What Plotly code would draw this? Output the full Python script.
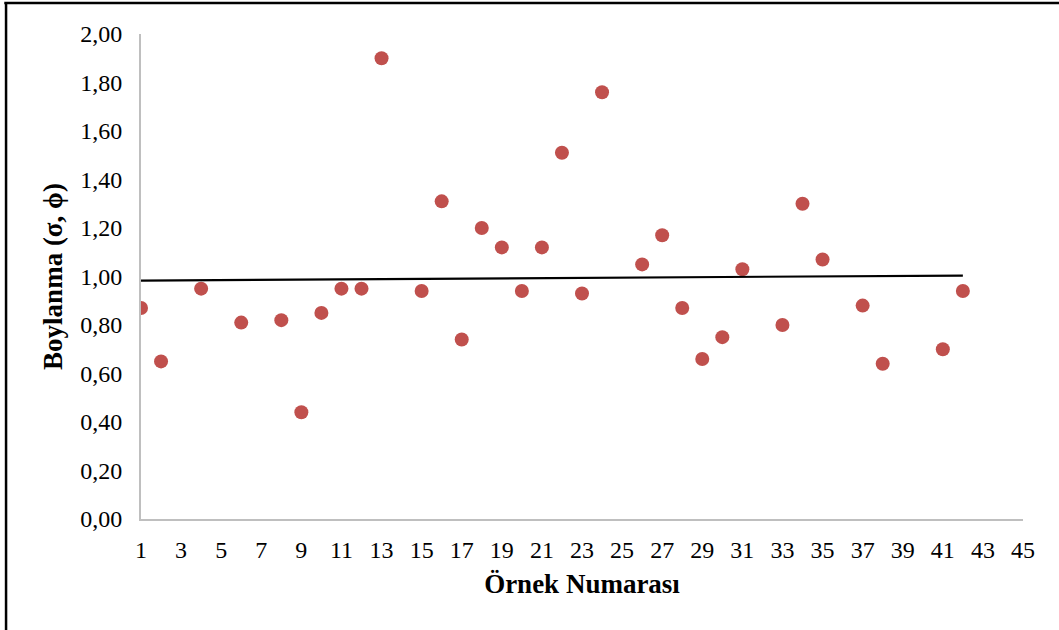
import plotly.graph_objects as go

sample_no = [1, 2, 4, 6, 8, 9, 10, 11, 12, 13, 15, 16, 17, 18, 19, 20, 21, 22, 23, 24,
             26, 27, 28, 29, 30, 31, 33, 34, 35, 37, 38, 41, 42]
sorting = [0.87, 0.65, 0.95, 0.81, 0.82, 0.44, 0.85, 0.95, 0.95, 1.90, 0.94, 1.31, 0.74,
           1.20, 1.12, 0.94, 1.12, 1.51, 0.93, 1.76, 1.05, 1.17, 0.87, 0.66, 0.75, 1.03,
           0.80, 1.30, 1.07, 0.88, 0.64, 0.70, 0.94]
trend_x = [1, 42]
trend_y = [0.983, 1.004]
x_ticks = list(range(1, 46, 2))
y_ticks = [0, 0.2, 0.4, 0.6, 0.8, 1.0, 1.2, 1.4, 1.6, 1.8, 2.0]

FONT = "Liberation Serif, Times New Roman, serif"

fig = go.Figure()
fig.add_trace(go.Scatter(x=sample_no, y=sorting, mode="markers",
                         marker=dict(color="#C0504D", size=14), showlegend=False))
fig.add_trace(go.Scatter(x=trend_x, y=trend_y, mode="lines",
                         line=dict(color="black", width=2.2), showlegend=False))

fig.update_layout(
    width=1059, height=630,
    margin=dict(l=141, r=36, t=34, b=111),
    paper_bgcolor="white", plot_bgcolor="white",
    separators=",.",
    font=dict(family=FONT, size=24, color="black"),
    xaxis=dict(range=[1, 45], tickvals=x_ticks, showgrid=False, zeroline=False,
               showline=True, linecolor="#BFBFBF", linewidth=2, ticks="",
               ticklabelstandoff=8, automargin=False,
               title=dict(text="<b>Örnek Numarası</b>", font=dict(size=27), standoff=12)),
    yaxis=dict(range=[0, 2], tickvals=y_ticks, tickformat=".2f", showgrid=False,
               zeroline=False, showline=True, linecolor="#BFBFBF", linewidth=2, ticks="",
               ticklabelstandoff=12, automargin=False,
               title=dict(text="<b>Boylanma (σ, ϕ)</b>", font=dict(size=27), standoff=10)),
    shapes=[
        dict(type="line", xref="paper", yref="paper", x0=-0.155, x1=1.1, y0=1.064, y1=1.064,
             line=dict(color="black", width=2.5)),
        dict(type="line", xref="paper", yref="paper", x0=-0.153, x1=-0.153, y0=1.064, y1=-0.3,
             line=dict(color="black", width=2.5)),
    ],
)

fig.write_html("out.html", config={"displayModeBar": False},
               post_script="document.body.style.margin='0';")
